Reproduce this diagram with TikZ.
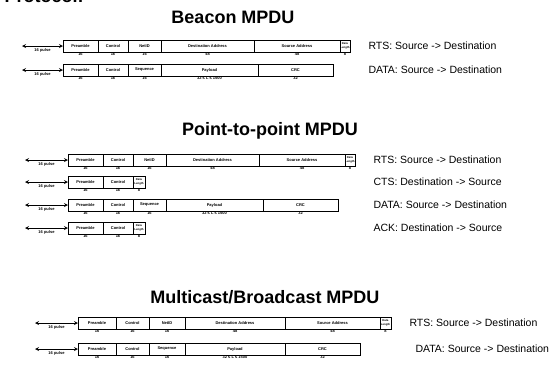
\documentclass[tikz,border=0pt]{standalone}
\usepackage{fontspec}
\setmainfont{Liberation Sans}
\usetikzlibrary{positioning}
\tikzset{
  field/.style={
    draw,
    line width = 0.8pt,
    outer sep = 0pt,
    inner sep = 0pt,
    minimum height = 12pt,
    align = center,
    font = \fontsize{4}{4.2}\selectfont\bfseries
  },
  lenbox/.style={
    field,
    font = \fontsize{2.8}{3.4}\selectfont\bfseries
  },
  span/.style={
    <->,
    >=stealth,
    line width = 0.8pt
  },
  pulse/.style={
    font = \fontsize{4}{4}\selectfont\bfseries,
    inner sep = 2.5pt
  },
}
\tikzset{
  title/.style={
    font = \fontsize{18}{20}\selectfont\bfseries
  },
  frame/.style={
    anchor = west,
    font = \fontsize{10.5}{12}\selectfont
  },
  every label/.style = {
    font = \fontsize{4}{4}\selectfont\bfseries,
    inner sep = 0.8pt
  },
}
\begin{document}
\begin{tikzpicture}[x=1pt, y=-1pt]
  \useasboundingbox (0,0) rectangle (550,373);
  \clip (0,0) rectangle (550,373);
  \node[title, anchor=base west] (proto) at (1,2) {Protocol:};

  % Beacon
  \node[title] (beacon) at (233,17) {Beacon MPDU};
  \coordinate (b1s) at (22,46);
    \node[field, anchor=west, minimum width=35pt, label=below:16] (b1pre) at (63,46) {Preamble};
    \node[field, minimum width=30pt, right=0pt of b1pre, label=below:16] (b1ctl) {Control};
    \node[field, minimum width=33pt, right=0pt of b1ctl, label=below:16] (b1net) {NetID};
    \node[field, minimum width=93pt, right=0pt of b1net, label=below:48] (b1dst) {Destination Address};
    \node[field, minimum width=86pt, right=0pt of b1dst, label=below:48] (b1src) {Source Address};
    \node[lenbox, minimum width=10pt, right=0pt of b1src, label=below:8] (b1len) {Data\\Length};
  \draw[span] (b1s) -- node[below, pulse] {16 pulse} (b1pre);
  \node[frame] (b1txt) at (365,46) {RTS: Source -> Destination};

  \coordinate (b2s) at (22,70);
    \node[field, anchor=west, minimum width=35pt, label=below:16] (b2pre) at (63,70) {Preamble};
    \node[field, minimum width=30pt, right=0pt of b2pre, label=below:16] (b2ctl) {Control};
    \node[field, minimum width=33pt, right=0pt of b2ctl, label=below:16] (b2seq) {Sequence};
    \node[field, minimum width=97pt, right=0pt of b2seq, label=below:{32 ≤ L ≤ 1500}] (b2pay) {Payload};
    \node[field, minimum width=75pt, right=0pt of b2pay, label=below:32] (b2crc) {CRC};
  \draw[span] (b2s) -- node[below, pulse] {16 pulse} (b2pre);
  \node[frame] (b2txt) at (365,70) {DATA: Source -> Destination};

  % Point-to-point
  \node[title] (p2p) at (270,131) {Point-to-point MPDU};
  \coordinate (p1s) at (25,160);
    \node[field, anchor=west, minimum width=35pt, label=below:16] (p1pre) at (68,160) {Preamble};
    \node[field, minimum width=30pt, right=0pt of p1pre, label=below:16] (p1ctl) {Control};
    \node[field, minimum width=33pt, right=0pt of p1ctl, label=below:16] (p1net) {NetID};
    \node[field, minimum width=93pt, right=0pt of p1net, label=below:48] (p1dst) {Destination Address};
    \node[field, minimum width=86pt, right=0pt of p1dst, label=below:48] (p1src) {Source Address};
    \node[lenbox, minimum width=10pt, right=0pt of p1src, label=below:8] (p1len) {Data\\Length};
  \draw[span] (p1s) -- node[below, pulse] {16 pulse} (p1pre);
  \node[frame] (p1txt) at (370,160) {RTS: Source -> Destination};

  \coordinate (p2s) at (25,182);
    \node[field, anchor=west, minimum width=35pt, label=below:16] (p2pre) at (68,182) {Preamble};
    \node[field, minimum width=30pt, right=0pt of p2pre, label=below:16] (p2ctl) {Control};
    \node[lenbox, minimum width=12pt, right=0pt of p2ctl, label=below:8] (p2len) {Data\\Length};
  \draw[span] (p2s) -- node[below, pulse] {16 pulse} (p2pre);
  \node[frame] (p2txt) at (370,182) {CTS: Destination -> Source};

  \coordinate (p3s) at (25,205);
    \node[field, anchor=west, minimum width=35pt, label=below:16] (p3pre) at (68,205) {Preamble};
    \node[field, minimum width=30pt, right=0pt of p3pre, label=below:16] (p3ctl) {Control};
    \node[field, minimum width=33pt, right=0pt of p3ctl, label=below:16] (p3seq) {Sequence};
    \node[field, minimum width=97pt, right=0pt of p3seq, label=below:{32 ≤ L ≤ 1500}] (p3pay) {Payload};
    \node[field, minimum width=75pt, right=0pt of p3pay, label=below:32] (p3crc) {CRC};
  \draw[span] (p3s) -- node[below, pulse] {16 pulse} (p3pre);
  \node[frame] (p3txt) at (370,205) {DATA: Source -> Destination};

  \coordinate (p4s) at (25,228);
    \node[field, anchor=west, minimum width=35pt, label=below:16] (p4pre) at (68,228) {Preamble};
    \node[field, minimum width=30pt, right=0pt of p4pre, label=below:16] (p4ctl) {Control};
    \node[lenbox, minimum width=12pt, right=0pt of p4ctl, label=below:8] (p4len) {Data\\Length};
  \draw[span] (p4s) -- node[below, pulse] {16 pulse} (p4pre);
  \node[frame] (p4txt) at (370,228) {ACK: Destination -> Source};

  % Multicast/Broadcast
  \node[title] (mcast) at (265,297) {Multicast/Broadcast MPDU};
  \coordinate (m1s) at (35,323);
    \node[field, anchor=west, minimum width=38pt, label=below:16] (m1pre) at (78,323) {Preamble};
    \node[field, minimum width=33pt, right=0pt of m1pre, label=below:16] (m1ctl) {Control};
    \node[field, minimum width=36pt, right=0pt of m1ctl, label=below:16] (m1net) {NetID};
    \node[field, minimum width=100pt, right=0pt of m1net, label=below:48] (m1dst) {Destination Address};
    \node[field, minimum width=95pt, right=0pt of m1dst, label=below:48] (m1src) {Source Address};
    \node[lenbox, minimum width=11pt, right=0pt of m1src, label=below:8] (m1len) {Data\\Length};
  \draw[span] (m1s) -- node[below, pulse] {16 pulse} (m1pre);
  \node[frame] (m1txt) at (406,323) {RTS: Source -> Destination};

  \coordinate (m2s) at (35,349);
    \node[field, anchor=west, minimum width=38pt, label=below:16] (m2pre) at (78,349) {Preamble};
    \node[field, minimum width=33pt, right=0pt of m2pre, label=below:16] (m2ctl) {Control};
    \node[field, minimum width=36pt, right=0pt of m2ctl, label=below:16] (m2seq) {Sequence};
    \node[field, minimum width=100pt, right=0pt of m2seq, label=below:{32 ≤ L ≤ 1500}] (m2pay) {Payload};
    \node[field, minimum width=75pt, right=0pt of m2pay, label=below:32] (m2crc) {CRC};
  \draw[span] (m2s) -- node[below, pulse] {16 pulse} (m2pre);
  \node[frame] (m2txt) at (412,349) {DATA: Source -> Destination};
\end{tikzpicture}
\end{document}
